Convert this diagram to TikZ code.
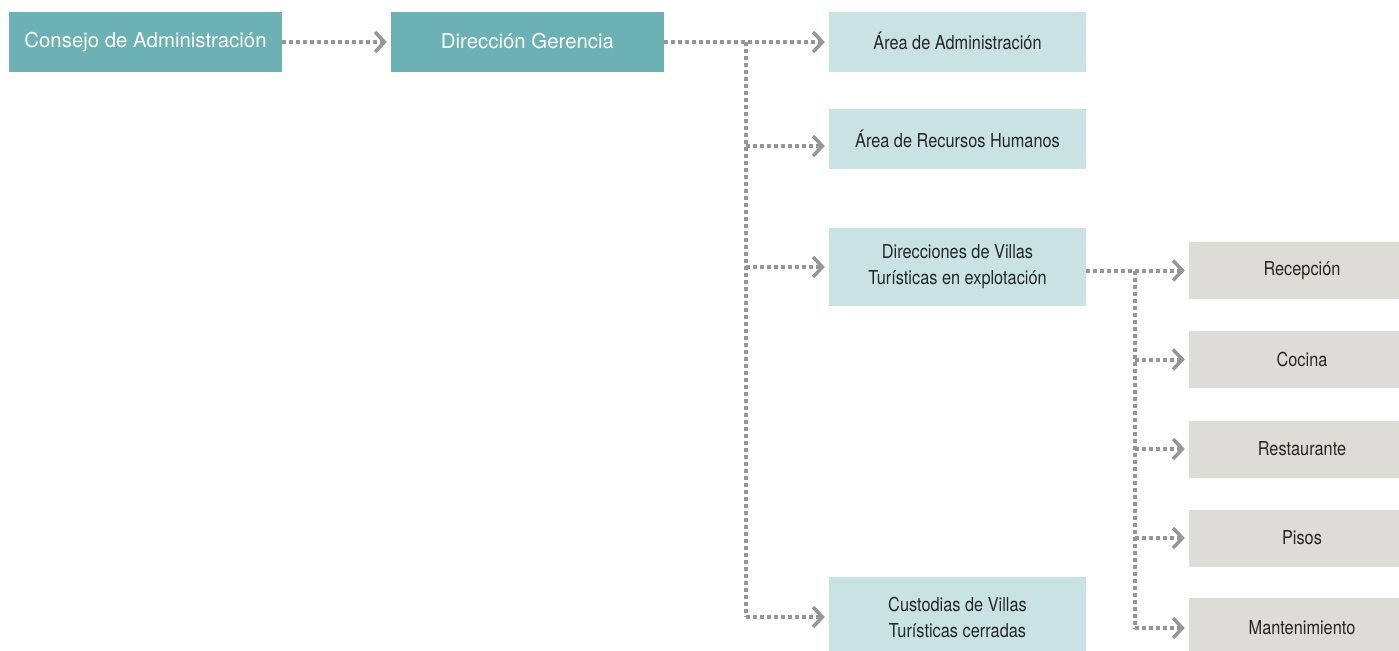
\documentclass[tikz,border=0pt]{standalone}
\usepackage{fontspec}
\setmainfont{TeX Gyre Heros}
\newfontfamily\cnfont[FakeStretch=0.85]{TeX Gyre Heros}
\usetikzlibrary{arrows.meta,positioning}
\definecolor{DTeal}{RGB}{108,178,181}
\definecolor{LTeal}{RGB}{201,227,228}
\definecolor{BGray}{RGB}{221,220,215}
\definecolor{LGray}{RGB}{150,150,150}

\begin{document}
\begin{tikzpicture}[
    x=0.75pt, y=-0.75pt,
    headbox/.style={fill=DTeal, text=white, minimum width=204.75pt,
      minimum height=45pt, inner sep=0pt, font=\fontsize{15.3}{18}\selectfont},
    areabox/.style={fill=LTeal, text=black!85, minimum width=192.75pt,
      minimum height=45pt, inner sep=0pt, align=center,
      font=\cnfont\fontsize{14.4}{19.5}\selectfont},
    unitbox/.style={fill=BGray, text=black!85, minimum width=169.5pt,
      minimum height=42.75pt, inner sep=0pt,
      font=\cnfont\fontsize{14.4}{19.5}\selectfont},
    dotline/.style={draw=LGray, line width=3pt, dash pattern=on 3pt off 2.25pt},
    link/.style={dotline, -{Straight Barb[length=7pt,width=15pt,line width=2.6pt]},
      shorten >=3pt}
  ]
  \useasboundingbox (0,0) rectangle (1399,650);

  % top row
  \node[headbox] (cons) at (145.5,42) {\raisebox{1.5pt}{Consejo de Administración}};
  \node[headbox] (dir)  at (527.5,42) {\raisebox{1.5pt}{Dirección Gerencia}};

  % areas
  \node[areabox] (adm)  at (957.5,42)  {\raisebox{1.5pt}{Área de Administración}};
  \node[areabox] (rrhh) at (957.5,139) {\raisebox{-3pt}{Área de Recursos Humanos}};
  \node[areabox, minimum height=58.5pt] (vil) at (957.5,267)
    {Direcciones de Villas\\Turísticas en explotación};
  \node[areabox, minimum height=60pt] (cus) at (957.5,617)
    {Custodias de Villas\\Turísticas cerradas};

  % units (cut off at the right edge)
  \node[unitbox] (rec)  at (1302,270.5) {Recepción};
  \node[unitbox] (coc)  at (1302,359.5) {Cocina};
  \node[unitbox] (res)  at (1302,449)   {Restaurante};
  \node[unitbox] (pis)  at (1302,538)   {Pisos};
  \node[unitbox, minimum height=45pt] (man) at (1302,628) {Mantenimiento};

  % connectors
  \coordinate (t1) at (746,42);
  \coordinate (t2) at (1135,270.5);
  \coordinate (rrhhin) at ([yshift=-5.25pt]rrhh.west);

  \draw[link] (cons.east) -- (dir.west);
  \draw[link] (dir.east) -- (adm.west);
  \draw[dotline] (t1) -- (t1 |- cus.west);
  \draw[link] (t1 |- rrhhin) -- (rrhhin);
  \draw[link] (t1 |- vil.west) -- (vil.west);
  \draw[link] (t1 |- cus.west) -- (cus.west);

  \draw[link] (vil.east |- rec.west) -- (rec.west);
  \draw[dotline] (t2) -- (t2 |- man.west);
  \draw[link] (t2 |- coc.west) -- (coc.west);
  \draw[link] (t2 |- res.west) -- (res.west);
  \draw[link] (t2 |- pis.west) -- (pis.west);
  \draw[link] (t2 |- man.west) -- (man.west);
\end{tikzpicture}
\end{document}
